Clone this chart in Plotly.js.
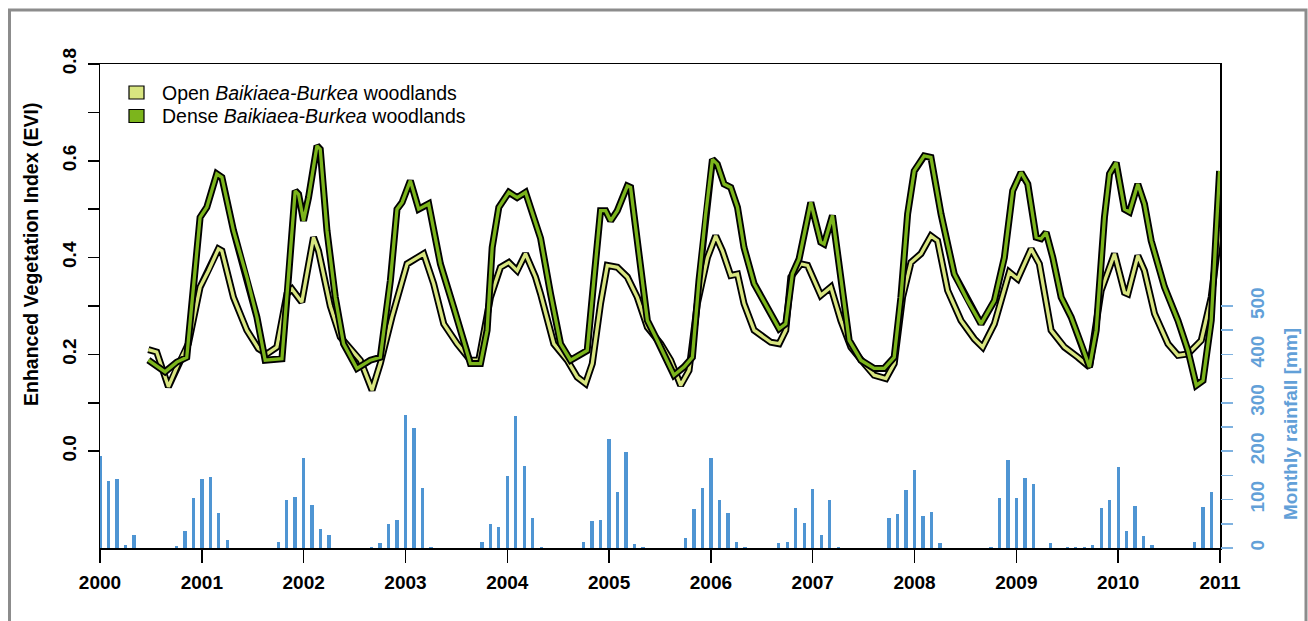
<!DOCTYPE html>
<html>
<head>
<meta charset="utf-8">
<script src="https://cdn.plot.ly/plotly-3.0.1.min.js"></script>
<style>
  html, body { margin: 0; padding: 0; background: #ffffff; }
  #chart { width: 1308px; height: 621px; }
</style>
</head>
<body>
<div id="chart"></div>
<script>
// ---------------- DATA ----------------
const xTickYears = [2000, 2001, 2002, 2003, 2004, 2005, 2006, 2007, 2008, 2009, 2010, 2011];
const eviTickVals = [0.0, 0.1, 0.2, 0.3, 0.4, 0.5, 0.6, 0.7, 0.8];
const eviTickText = ['0.0', '', '0.2', '', '0.4', '', '0.6', '', '0.8'];
const rainTickVals = [0, 50, 100, 150, 200, 250, 300, 350, 400, 450, 500];
const rainTickText = ['0', '', '100', '', '200', '', '300', '', '400', '', '500'];

// Open Baikiaea-Burkea woodlands (EVI)
const openYears = [2000.475,2000.557,2000.672,2000.769,2000.868,2000.983,2001.065,2001.163,2001.197,2001.311,
  2001.442,2001.556,2001.639,2001.737,2001.836,2001.885,2001.982,2002.097,2002.146,2002.262,
  2002.360,2002.557,2002.672,2002.753,2002.867,2003.016,2003.179,2003.277,2003.376,2003.507,
  2003.638,2003.720,2003.835,2003.933,2004.015,2004.097,2004.179,2004.277,2004.327,2004.457,
  2004.589,2004.687,2004.769,2004.835,2004.916,2004.982,2005.081,2005.179,2005.277,2005.376,
  2005.507,2005.605,2005.703,2005.785,2005.867,2005.966,2006.047,2006.113,2006.195,2006.261,
  2006.325,2006.424,2006.588,2006.670,2006.735,2006.785,2006.883,2006.949,2007.079,2007.178,
  2007.276,2007.375,2007.505,2007.603,2007.719,2007.800,2007.882,2007.965,2008.063,2008.161,
  2008.226,2008.325,2008.456,2008.587,2008.669,2008.784,2008.931,2009.013,2009.145,2009.226,
  2009.341,2009.472,2009.604,2009.718,2009.833,2009.964,2010.062,2010.095,2010.193,2010.258,
  2010.357,2010.489,2010.587,2010.685,2010.816,2010.914,2010.996];
const openEVI = [0.21,0.205,0.133,0.181,0.222,0.339,0.373,0.418,0.414,0.318,
  0.25,0.212,0.201,0.215,0.325,0.335,0.308,0.442,0.414,0.30,
  0.236,0.188,0.126,0.181,0.277,0.387,0.408,0.346,0.263,0.222,
  0.188,0.188,0.318,0.38,0.39,0.373,0.408,0.36,0.325,0.222,
  0.188,0.153,0.14,0.181,0.305,0.384,0.38,0.36,0.318,0.256,
  0.222,0.188,0.136,0.167,0.305,0.40,0.445,0.414,0.363,0.366,
  0.305,0.25,0.225,0.222,0.25,0.36,0.387,0.384,0.322,0.339,
  0.27,0.215,0.181,0.157,0.15,0.181,0.318,0.39,0.408,0.445,
  0.435,0.332,0.27,0.232,0.215,0.263,0.37,0.356,0.418,0.387,
  0.25,0.215,0.194,0.174,0.332,0.408,0.328,0.325,0.404,0.373,
  0.284,0.222,0.198,0.201,0.229,0.318,0.456];

// Dense Baikiaea-Burkea woodlands (EVI)
const denseYears = [2000.475,2000.639,2000.754,2000.852,2000.983,2001.049,2001.147,2001.197,2001.311,2001.442,
  2001.541,2001.622,2001.787,2001.836,2001.917,2001.950,2001.999,2002.048,2002.131,2002.163,
  2002.229,2002.311,2002.392,2002.524,2002.655,2002.753,2002.852,2002.917,2002.967,2003.048,
  2003.130,2003.228,2003.343,2003.474,2003.638,2003.737,2003.802,2003.852,2003.917,2004.015,
  2004.097,2004.179,2004.261,2004.327,2004.425,2004.523,2004.621,2004.736,2004.785,2004.850,
  2004.916,2004.966,2005.015,2005.081,2005.179,2005.211,2005.310,2005.376,2005.473,2005.571,
  2005.637,2005.735,2005.818,2005.883,2005.949,2006.015,2006.063,2006.129,2006.195,2006.261,
  2006.325,2006.424,2006.588,2006.670,2006.735,2006.800,2006.866,2006.981,2007.079,2007.112,
  2007.194,2007.276,2007.358,2007.473,2007.603,2007.702,2007.800,2007.866,2007.932,2007.997,
  2008.095,2008.161,2008.260,2008.390,2008.522,2008.653,2008.784,2008.882,2008.964,2009.046,
  2009.112,2009.194,2009.243,2009.292,2009.358,2009.440,2009.538,2009.636,2009.718,2009.784,
  2009.865,2009.915,2009.980,2010.062,2010.111,2010.193,2010.258,2010.324,2010.455,2010.587,
  2010.685,2010.767,2010.833,2010.914,2010.996];
const denseEVI = [0.188,0.164,0.184,0.194,0.483,0.504,0.573,0.566,0.456,0.36,
  0.277,0.188,0.191,0.318,0.538,0.531,0.476,0.524,0.631,0.624,
  0.456,0.318,0.222,0.171,0.188,0.194,0.353,0.50,0.514,0.559,
  0.50,0.511,0.387,0.297,0.181,0.181,0.25,0.421,0.504,0.535,
  0.524,0.535,0.483,0.44,0.325,0.222,0.188,0.201,0.208,0.353,
  0.497,0.497,0.476,0.497,0.548,0.545,0.387,0.27,0.229,0.188,
  0.157,0.174,0.194,0.353,0.49,0.603,0.593,0.552,0.545,0.504,
  0.421,0.346,0.284,0.253,0.263,0.366,0.397,0.514,0.432,0.428,
  0.487,0.353,0.229,0.188,0.171,0.171,0.194,0.318,0.49,0.579,
  0.61,0.607,0.49,0.366,0.311,0.263,0.311,0.40,0.538,0.576,
  0.552,0.442,0.439,0.452,0.40,0.318,0.277,0.222,0.174,0.25,
  0.483,0.573,0.596,0.50,0.494,0.552,0.511,0.435,0.339,0.27,
  0.208,0.136,0.146,0.27,0.579];

// Monthly rainfall [mm], January 2000 ... December 2010
const rainStartYear = 2000;
const rain2000 = [190,139,143,6,26,1,0,0,1,5,35,103];
const rain2001 = [142,146,72,16,1,0,0,1,1,12,99,106];
const rain2002 = [186,89,39,27,1,0,1,0,3,10,50,57];
const rain2003 = [275,247,123,3,1,0,0,1,1,13,50,43];
const rain2004 = [149,273,170,63,3,0,0,1,1,13,56,57];
const rain2005 = [225,115,199,8,3,0,0,1,1,20,80,125];
const rain2006 = [185,99,73,13,2,0,0,1,11,12,83,52];
const rain2007 = [121,26,99,2,1,0,0,0,1,61,70,120];
const rain2008 = [161,66,75,10,1,0,0,1,1,2,104,182];
const rain2009 = [104,144,132,1,10,1,2,2,3,6,83,99];
const rain2010 = [168,35,87,25,7,0,1,1,1,13,85,115];

// ---------------- BUILD ----------------
const rainMM = [].concat(rain2000, rain2001, rain2002, rain2003, rain2004, rain2005,
                         rain2006, rain2007, rain2008, rain2009, rain2010);
const rainMonthX = rainMM.map((v, i) => rainStartYear + i / 12);

const FONT = 'Liberation Sans, Arial, Helvetica, sans-serif';
const BLUE = '#4f95d3';
const BLUE_TXT = '#62a0d8';
const OPEN_COL = '#d8e580';
const DENSE_COL = '#7cb51c';

// plot area in pixels: x 100..1220, y 64..548
const PX = p => (p - 100) / 1120;
const PY = p => (548 - p) / 484;

const traces = [
  { type: 'scatter', mode: 'lines', x: openYears, y: openEVI, xaxis: 'x', yaxis: 'y',
    line: { color: '#000000', width: 7, shape: 'linear' }, hoverinfo: 'skip', showlegend: false },
  { type: 'scatter', mode: 'lines', x: openYears, y: openEVI, xaxis: 'x', yaxis: 'y',
    line: { color: OPEN_COL, width: 3.3 }, name: 'Open Baikiaea-Burkea woodlands', showlegend: false },
  { type: 'scatter', mode: 'lines', x: denseYears, y: denseEVI, xaxis: 'x', yaxis: 'y',
    line: { color: '#000000', width: 7 }, hoverinfo: 'skip', showlegend: false },
  { type: 'scatter', mode: 'lines', x: denseYears, y: denseEVI, xaxis: 'x', yaxis: 'y',
    line: { color: DENSE_COL, width: 3.3 }, name: 'Dense Baikiaea-Burkea woodlands', showlegend: false },
  { type: 'bar', x: rainMonthX, y: rainMM, xaxis: 'x', yaxis: 'y2', width: 0.033,
    marker: { color: BLUE, line: { width: 0 } }, name: 'Monthly rainfall', showlegend: false }
];

const layout = {
  width: 1308, height: 621,
  margin: { l: 100, r: 88, t: 64, b: 73, pad: 0 },
  paper_bgcolor: '#ffffff', plot_bgcolor: '#ffffff',
  font: { family: FONT, size: 19, color: '#000000' },
  bargap: 0,
  xaxis: {
    range: [2000, 2011], tickmode: 'array', tickvals: xTickYears, ticktext: xTickYears.map(String),
    ticks: 'outside', ticklen: 13, tickwidth: 1.5, tickcolor: '#000000', ticklabelstandoff: 4,
    showline: true, linecolor: '#000000', linewidth: 1.5, mirror: true,
    showgrid: false, zeroline: false,
    tickfont: { family: FONT, size: 19, weight: 700, color: '#000000' }
  },
  yaxis: {
    range: [-0.2, 0.8], tickmode: 'array', tickvals: eviTickVals, ticktext: eviTickText,
    ticks: 'outside', ticklen: 11, tickwidth: 1.5, tickcolor: '#000000', tickangle: -90,
    ticklabelstandoff: 4,
    showline: true, linecolor: '#000000', linewidth: 1.5, mirror: true,
    showgrid: false, zeroline: false,
    tickfont: { family: FONT, size: 19, weight: 700, color: '#000000' }
  },
  yaxis2: {
    overlaying: 'y', side: 'right', range: [0, 1000],
    tickmode: 'array', tickvals: rainTickVals, ticktext: rainTickText,
    ticks: 'outside', ticklen: 12, tickwidth: 1.5, tickcolor: '#7fb2e0', tickangle: -90,
    ticklabelstandoff: 8,
    showline: false, showgrid: false, zeroline: false,
    tickfont: { family: FONT, size: 19, weight: 700, color: BLUE_TXT }
  },
  shapes: [
    // outer frame
    { type: 'rect', xref: 'paper', yref: 'paper', x0: PX(9.5), x1: PX(1306), y0: PY(660), y1: PY(10),
      line: { color: '#8c8c8c', width: 3 }, fillcolor: 'rgba(0,0,0,0)', layer: 'below' },
    // legend keys
    { type: 'rect', xref: 'paper', yref: 'paper', x0: PX(129), x1: PX(144), y0: PY(99), y1: PY(86),
      line: { color: '#000000', width: 1.2 }, fillcolor: OPEN_COL },
    { type: 'rect', xref: 'paper', yref: 'paper', x0: PX(129), x1: PX(144), y0: PY(122.5), y1: PY(109.5),
      line: { color: '#000000', width: 1.2 }, fillcolor: DENSE_COL }
  ],
  annotations: [
    { xref: 'paper', yref: 'paper', x: PX(160), y: PY(92.5), xanchor: 'left', yanchor: 'middle',
      text: 'Open <i>Baikiaea-Burkea</i> woodlands', showarrow: false,
      font: { family: FONT, size: 19.5, color: '#000000' } },
    { xref: 'paper', yref: 'paper', x: PX(160), y: PY(116), xanchor: 'left', yanchor: 'middle',
      text: 'Dense <i>Baikiaea-Burkea</i> woodlands', showarrow: false,
      font: { family: FONT, size: 19.5, color: '#000000' } },
    { xref: 'paper', yref: 'paper', x: PX(31), y: PY(255), xanchor: 'center', yanchor: 'middle',
      text: 'Enhanced Vegetation Index (EVI)', textangle: -90, showarrow: false,
      font: { family: FONT, size: 19.5, weight: 700, color: '#000000' } },
    { xref: 'paper', yref: 'paper', x: PX(1290), y: PY(424), xanchor: 'center', yanchor: 'middle',
      text: 'Monthly rainfall [mm]', textangle: -90, showarrow: false,
      font: { family: FONT, size: 19, weight: 700, color: BLUE_TXT } }
  ]
};

Plotly.newPlot('chart', traces, layout, { displayModeBar: false, staticPlot: true });
</script>
</body>
</html>
